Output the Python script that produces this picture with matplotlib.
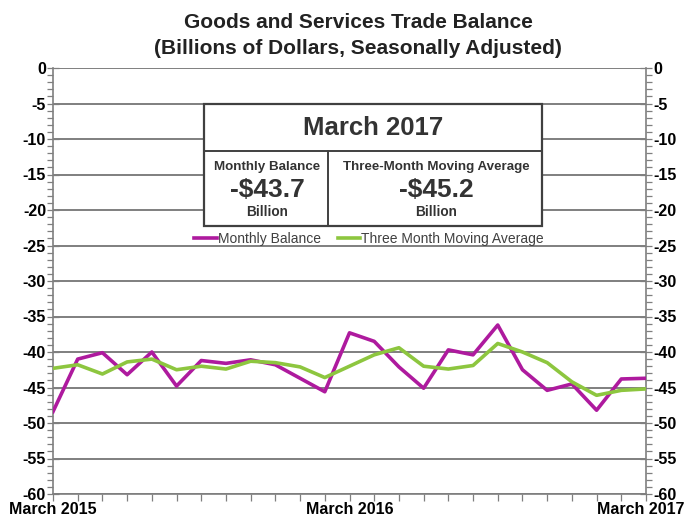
import numpy as np
import matplotlib
matplotlib.use("Agg")
import matplotlib.pyplot as plt
import matplotlib.transforms as mtransforms
from matplotlib.patches import Rectangle
from matplotlib.ticker import MultipleLocator

plt.rcParams["font.family"] = ["Liberation Sans", "DejaVu Sans"]
plt.rcParams["axes.unicode_minus"] = False

# Mar 2015 .. Mar 2017, billions of dollars
months = np.arange(25)
monthly_balance = [-48.4, -41.0, -40.1, -43.2, -40.0, -44.8, -41.2, -41.6, -41.1,
                   -41.8, -43.7, -45.6, -37.3, -38.5, -42.1, -45.1, -39.7, -40.4,
                   -36.2, -42.5, -45.4, -44.5, -48.2, -43.8, -43.7]
moving_avg = [-42.3, -41.8, -43.1, -41.4, -41.0, -42.5, -42.0, -42.4, -41.3,
              -41.5, -42.1, -43.6, -42.0, -40.4, -39.4, -42.0, -42.4, -41.9,
              -38.8, -40.0, -41.5, -44.2, -46.1, -45.4, -45.2]
x_labels = {0: "March 2015", 12: "March 2016", 24: "March 2017"}

MAGENTA = "#AE1A9E"
GREEN = "#8DC63F"
TXT = "#333333"
GRID = "#7F7F7F"
NARROW = ["Liberation Sans Narrow", "Liberation Sans"]

fig = plt.figure(figsize=(6.86, 5.18), dpi=100)
ax = fig.add_axes([53 / 686, 1 - 494 / 518, 593 / 686, 426 / 518])

ax.plot(months, monthly_balance, color=MAGENTA, lw=2.6, label="Monthly Balance", zorder=3)
ax.plot(months, moving_avg, color=GREEN, lw=2.6, label="Three Month Moving Average", zorder=4)

ax.set_xlim(0, 24)
ax.set_ylim(-60, 0)
ax.yaxis.set_major_locator(MultipleLocator(5))
ax.yaxis.set_minor_locator(MultipleLocator(1))
ax.set_xticks(months)
ax.set_xticklabels([x_labels.get(m, "") for m in months], fontweight="bold",
                   fontsize=11.5, family=NARROW)
ax.set_yticks(np.arange(-60, 1, 5))
ax.set_yticklabels([str(v) for v in range(-60, 1, 5)], fontweight="bold",
                   fontsize=11.5, family=NARROW)
ax.grid(True, axis="y", which="major", color=GRID, lw=1.4, zorder=1)
ax.set_axisbelow(True)

ax.tick_params(axis="y", which="major", direction="inout", length=8, width=0.9,
               color=GRID, left=True, right=True, labelleft=True, labelright=True, pad=1)
ax.tick_params(axis="y", which="minor", direction="out", length=4, width=0.9,
               color=GRID, left=True, right=True)
ax.tick_params(axis="x", direction="out", length=5, width=0.9, color=GRID, pad=1)

# keep the last month label inside the canvas
last = ax.get_xticklabels()[-1]
last.set_transform(last.get_transform() +
                   mtransforms.ScaledTranslation(-5 / 100, 0, fig.dpi_scale_trans))

for s in ["left", "right", "bottom"]:
    ax.spines[s].set_color(GRID)
    ax.spines[s].set_linewidth(1.2)
ax.spines["top"].set_visible(False)

# inset summary box
x0, x1, xm = 0.2546, 0.8246, 0.4637
y0, y1, ym = 0.629, 0.9155, 0.805
ax.add_patch(Rectangle((x0, y0), x1 - x0, y1 - y0, transform=ax.transAxes,
                       facecolor="white", edgecolor="#404040", lw=1.6, zorder=5))
ax.plot([x0, x1], [ym, ym], transform=ax.transAxes, color="#404040", lw=1.4, zorder=6)
ax.plot([xm, xm], [y0, ym], transform=ax.transAxes, color="#404040", lw=1.4, zorder=6)

ax.text((x0 + x1) / 2, 0.859, "March 2017", transform=ax.transAxes, ha="center",
        va="center", fontsize=18.5, fontweight="bold", color=TXT, zorder=7)
for cx, head, val in [(0.361, "Monthly Balance", "-\\$43.7"),
                      (0.646, "Three-Month Moving Average", "-\\$45.2")]:
    ax.text(cx, 0.7676, head, transform=ax.transAxes, ha="center", va="center",
            fontsize=9.6, fontweight="bold", color=TXT, zorder=7)
    ax.text(cx, 0.7136, val, transform=ax.transAxes, ha="center", va="center",
            fontsize=19, fontweight="bold", color=TXT, zorder=7)
    ax.text(cx, 0.662, "Billion", transform=ax.transAxes, ha="center", va="center",
            fontsize=9.8, fontweight="bold", color=TXT, zorder=7)

leg = ax.legend(loc="center", bbox_to_anchor=(0.533, 0.5986), ncol=2, frameon=False,
                fontsize=10, handlelength=1.6, handletextpad=0.1, columnspacing=1.2,
                borderpad=0)
for t in leg.get_texts():
    t.set_color("#404040")

fig.text(0.522, 0.957, "Goods and Services Trade Balance", ha="center", va="center",
         fontsize=15, fontweight="bold", color="#222222")
fig.text(0.522, 0.907, "(Billions of Dollars, Seasonally Adjusted)", ha="center",
         va="center", fontsize=15, fontweight="bold", color="#222222")

fig.savefig("out.png", dpi=100)
